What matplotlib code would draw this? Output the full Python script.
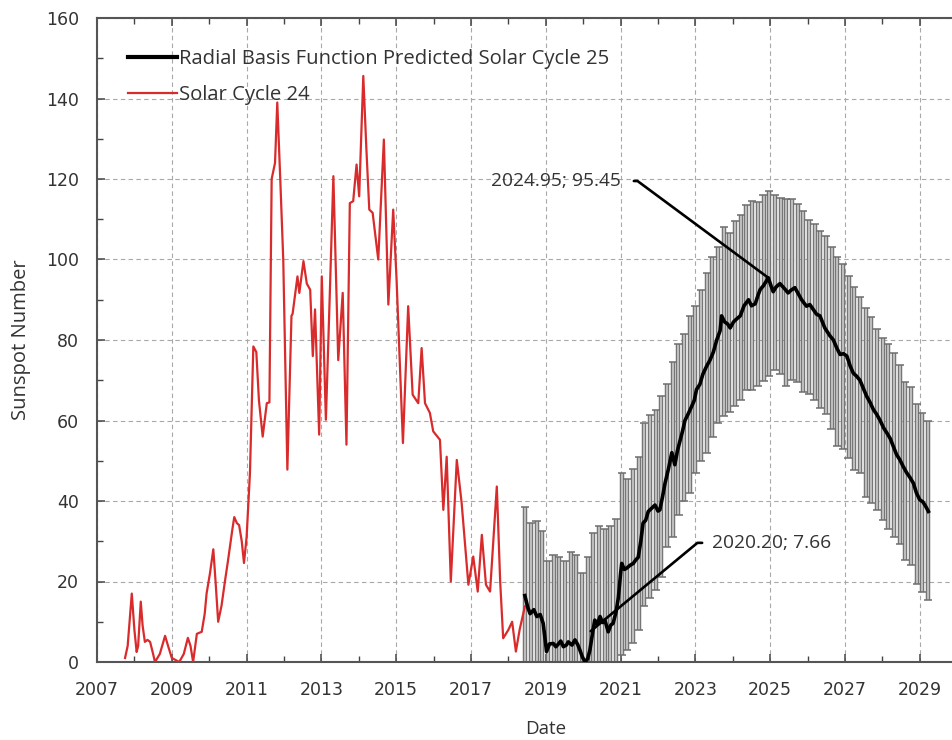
import numpy as np
import matplotlib
matplotlib.use("Agg")
import matplotlib.pyplot as plt
import matplotlib.patheffects as pe
from matplotlib.ticker import MultipleLocator

# ---- Solar Cycle 24 (observed, smoothed) ----
c24_year = [2007.75, 2007.82, 2007.93, 2008.00, 2008.06, 2008.10, 2008.17, 2008.22, 2008.28, 2008.35,
            2008.42, 2008.50, 2008.55, 2008.68, 2008.82, 2008.90, 2009.00, 2009.10, 2009.20, 2009.32,
            2009.43, 2009.50, 2009.57, 2009.67, 2009.80, 2009.88, 2009.93, 2010.02, 2010.11, 2010.17,
            2010.24, 2010.33, 2010.42, 2010.50, 2010.56, 2010.62, 2010.67, 2010.74, 2010.80, 2010.87,
            2010.93, 2011.00, 2011.09, 2011.18, 2011.26, 2011.33, 2011.43, 2011.54, 2011.61, 2011.67,
            2011.76, 2011.82, 2011.90, 2011.98, 2012.09, 2012.20, 2012.23, 2012.36, 2012.41, 2012.52,
            2012.61, 2012.70, 2012.77, 2012.83, 2012.94, 2013.01, 2013.12, 2013.22, 2013.32, 2013.45,
            2013.57, 2013.67, 2013.76, 2013.85, 2013.94, 2014.01, 2014.12, 2014.20, 2014.28, 2014.37,
            2014.52, 2014.67, 2014.79, 2014.92, 2015.01, 2015.18, 2015.32, 2015.44, 2015.59, 2015.68,
            2015.77, 2015.90, 2015.99, 2016.17, 2016.26, 2016.35, 2016.46, 2016.62, 2016.75, 2016.93,
            2017.06, 2017.18, 2017.29, 2017.40, 2017.51, 2017.69, 2017.78, 2017.86, 2018.00, 2018.10,
            2018.20, 2018.30, 2018.44]
c24_ssn = [1.0, 4.0, 17.0, 8.0, 2.5, 4.0, 15.0, 9.0, 5.0, 5.5,
           5.0, 2.0, 0.0, 2.0, 6.5, 4.0, 1.0, 0.5, 0.0, 2.0,
           6.0, 4.0, 0.0, 7.0, 7.5, 12.0, 17.0, 22.0, 28.0, 20.0,
           10.0, 14.0, 20.0, 25.0, 29.0, 33.0, 36.0, 34.5, 34.0, 30.0,
           24.6, 31.0, 47.0, 78.4, 77.0, 65.0, 56.0, 64.3, 64.5, 120.0,
           124.0, 139.0, 120.0, 100.0, 47.8, 86.0, 86.5, 95.8, 91.7, 99.6,
           94.0, 92.5, 76.0, 87.6, 56.5, 95.8, 60.2, 90.0, 120.7, 75.0,
           91.7, 54.0, 114.0, 114.5, 123.6, 115.7, 145.6, 128.0, 112.4, 111.6,
           100.0, 129.8, 88.8, 112.4, 95.0, 54.4, 88.4, 66.4, 64.3, 78.0,
           64.3, 61.9, 57.3, 55.2, 37.8, 51.0, 20.0, 50.2, 39.5, 19.2,
           26.2, 17.5, 31.6, 19.2, 17.5, 43.6, 20.0, 5.9, 8.0, 10.0,
           2.6, 8.0, 13.8]

# ---- Radial basis function prediction for Solar Cycle 25 ----
c25_year = [2018.44, 2018.52, 2018.58, 2018.68, 2018.76, 2018.85, 2018.93, 2019.02, 2019.10, 2019.20,
            2019.27, 2019.33, 2019.40, 2019.47, 2019.55, 2019.60, 2019.70, 2019.78, 2019.85, 2019.91,
            2019.98, 2020.05, 2020.12, 2020.18, 2020.25, 2020.31, 2020.38, 2020.45, 2020.52, 2020.58,
            2020.63, 2020.67, 2020.74, 2020.80, 2020.88, 2020.94, 2021.00, 2021.03, 2021.10, 2021.16,
            2021.25, 2021.34, 2021.40, 2021.47, 2021.54, 2021.60, 2021.67, 2021.74, 2021.83, 2021.92,
            2022.00, 2022.05, 2022.12, 2022.19, 2022.28, 2022.37, 2022.45, 2022.52, 2022.59, 2022.66,
            2022.72, 2022.80, 2022.90, 2022.97, 2023.03, 2023.12, 2023.20, 2023.30, 2023.39, 2023.48,
            2023.57, 2023.66, 2023.70, 2023.78, 2023.86, 2023.93, 2024.02, 2024.10, 2024.20, 2024.30,
            2024.42, 2024.50, 2024.60, 2024.67, 2024.73, 2024.82, 2024.95, 2025.02, 2025.08, 2025.16,
            2025.26, 2025.36, 2025.48, 2025.56, 2025.66, 2025.75, 2025.84, 2025.97, 2026.06, 2026.15,
            2026.24, 2026.33, 2026.46, 2026.60, 2026.69, 2026.78, 2026.87, 2026.96, 2027.05, 2027.14,
            2027.22, 2027.31, 2027.40, 2027.49, 2027.58, 2027.67, 2027.76, 2027.85, 2027.94, 2028.03,
            2028.12, 2028.21, 2028.29, 2028.38, 2028.47, 2028.56, 2028.65, 2028.74, 2028.83, 2028.91,
            2029.00, 2029.08, 2029.15, 2029.23]
c25_ssn = [16.5, 13.5, 12.0, 13.0, 11.3, 11.8, 9.6, 2.6, 4.5, 4.6,
           3.8, 4.4, 5.2, 3.8, 4.2, 5.0, 4.2, 5.5, 4.4, 3.0,
           1.2, 0.0, 0.8, 3.0, 7.2, 10.4, 9.5, 11.3, 9.8, 10.4,
           8.8, 7.5, 9.2, 9.6, 12.5, 16.0, 22.0, 24.5, 23.0, 23.3,
           24.0, 24.5, 25.3, 26.0, 30.0, 34.5, 35.2, 37.4, 38.2, 39.0,
           37.5, 37.8, 41.0, 44.5, 48.0, 52.0, 49.0, 52.5, 55.0, 57.5,
           60.0, 61.5, 63.5, 65.0, 67.7, 69.0, 71.5, 73.5, 75.0, 77.0,
           80.0, 82.3, 86.0, 84.5, 84.0, 83.0, 84.5, 85.2, 86.0, 88.5,
           90.0, 88.5, 89.0, 91.0, 92.5, 93.5, 95.45, 93.5, 92.0, 93.2,
           94.0, 93.0, 91.7, 92.4, 93.0, 91.5, 90.0, 88.4, 88.8, 87.6,
           86.4, 86.0, 83.0, 81.0, 80.0, 78.0, 76.4, 76.6, 76.0, 73.5,
           71.8, 71.0, 70.0, 68.0, 66.0, 64.5, 62.7, 61.5, 60.0, 58.2,
           56.9, 55.5, 53.6, 51.5, 50.2, 48.5, 47.0, 45.8, 44.4, 42.0,
           40.3, 39.8, 38.8, 37.4]

# Uncertainty band of the prediction, sampled at the error-bar dates
band_first, band_last, band_count = 2018.45, 2029.22, 72
band_upper = [38.5, 34.5, 35.0, 32.5, 25.0, 26.5, 26.0, 25.0, 27.4, 26.5,
              22.0, 26.0, 32.0, 33.7, 33.0, 33.7, 35.5, 47.0, 45.5, 48.0,
              51.0, 59.5, 61.4, 62.5, 66.0, 69.0, 74.5, 79.0, 81.5, 86.0,
              88.5, 92.5, 96.7, 100.5, 103.0, 108.0, 106.5, 109.5, 111.0, 113.5,
              114.5, 114.3, 116.0, 117.0, 116.0, 115.2, 115.0, 115.0, 113.8, 112.0,
              109.8, 108.8, 107.0, 105.8, 103.0, 100.5, 98.8, 96.0, 93.2, 90.8,
              88.0, 85.8, 82.8, 80.6, 79.0, 76.8, 73.8, 69.5, 68.2, 64.0,
              61.8, 60.0]
band_lower = [-5.0, -9.0, -11.0, -13.0, -18.0, -17.0, -17.0, -18.0, -16.0, -15.0,
              -18.0, -19.0, -12.0, -10.0, -12.0, -16.0, -3.0, 1.8, 3.0, 4.6,
              8.0, 14.0, 16.0, 18.0, 21.0, 28.5, 31.0, 36.5, 40.0, 42.0,
              47.0, 50.0, 52.0, 56.0, 59.5, 61.0, 62.0, 63.5, 65.2, 67.7,
              67.7, 68.6, 69.8, 71.0, 72.5, 71.5, 68.5, 70.0, 69.5, 67.0,
              66.5, 65.0, 63.0, 61.5, 58.0, 53.6, 53.0, 50.6, 47.6, 47.0,
              41.0, 39.4, 37.7, 35.3, 33.0, 31.0, 29.2, 25.3, 24.2, 19.5,
              17.5, 15.5]

peak_point = (2024.95, 95.45)
min_point = (2020.20, 7.66)

x_ticks = list(range(2007, 2030, 2))
y_ticks = list(range(0, 161, 20))

# ---- figure ----
plt.rcParams['font.family'] = ['Open Sans', 'DejaVu Sans']
fig = plt.figure(figsize=(9.52, 7.40), dpi=100)
ax = fig.add_axes([97 / 952, 78 / 740, 24 * 37.4 / 952, 644 / 740])

ax.set_xlim(2007, 2031)
ax.set_ylim(0, 160)

# error bars of the prediction
bx = np.linspace(band_first, band_last, band_count)
up = np.array(band_upper)
lo = np.array(band_lower)
ax.vlines(bx, lo, up, colors='#bdbdbd', linewidth=1.6, zorder=2,
          path_effects=[pe.Stroke(linewidth=3.2, foreground='#6e6e6e'), pe.Normal()])
ax.hlines(up, bx - 0.11, bx + 0.11, colors='#6e6e6e', linewidth=1.1, zorder=2)
ax.hlines(lo, bx - 0.11, bx + 0.11, colors='#6e6e6e', linewidth=1.1, zorder=2)

ax.plot(c24_year, c24_ssn, color='#d92b2b', lw=1.6, zorder=3, label='Solar Cycle 24')
ax.plot(c25_year, c25_ssn, color='black', lw=2.6, zorder=4,
        label='Radial Basis Function Predicted Solar Cycle 25')

# grid, ticks, spines
ax.set_xticks(x_ticks)
ax.set_yticks(y_ticks)
ax.xaxis.set_minor_locator(MultipleLocator(1))
ax.yaxis.set_minor_locator(MultipleLocator(10))
ax.grid(True, which='major', color='#a8a8a8', linestyle=(0, (4, 3)), linewidth=0.8, zorder=0)
ax.set_axisbelow(True)
ax.tick_params(which='both', direction='in', top=True, right=False, colors='#444444',
               labelcolor='#333333')
ax.tick_params(which='major', length=6, width=1.1)
ax.tick_params(which='minor', length=4, width=1.0)
ax.tick_params(axis='y', pad=13)
ax.tick_params(axis='x', pad=14)
for lab in ax.get_xticklabels() + ax.get_yticklabels():
    lab.set_fontsize(12.5)
    lab.set_family(['DejaVu Sans'])
for s in ax.spines.values():
    s.set_color('#555555')
    s.set_linewidth(1.5)

ax.set_xlabel('Date', fontsize=13.5, color='#333333', labelpad=15)
ax.set_ylabel('Sunspot Number', fontsize=14.5, color='#333333', labelpad=11)

# annotations for the predicted maximum and minimum
ax.annotate(f'{peak_point[0]:.2f}; {peak_point[1]:.2f}', xy=peak_point, xytext=(2021.02, 119.5),
            ha='right', va='center', fontsize=13.8, color='#333333', zorder=6,
            arrowprops=dict(arrowstyle='-', color='black', lw=1.9, shrinkA=7, shrinkB=0,
                            relpos=(1, 0.5),
                            connectionstyle='angle,angleA=0,angleB=-36.5,rad=0'))
ax.annotate(f'{min_point[0]:.2f}; {min_point[1]:.2f}', xy=min_point, xytext=(2023.44, 29.6),
            ha='left', va='center', fontsize=13.8, color='#333333', zorder=6,
            arrowprops=dict(arrowstyle='-', color='black', lw=1.9, shrinkA=5, shrinkB=0,
                            relpos=(0, 0.5),
                            connectionstyle='angle,angleA=0,angleB=39.6,rad=0'))

handles, labels = ax.get_legend_handles_labels()
leg = ax.legend(handles[::-1], labels[::-1], loc='upper left',
                bbox_to_anchor=(128 / 952, 1 - 49 / 740), bbox_transform=fig.transFigure,
                frameon=False, fontsize=14.6, handlelength=2.4, handletextpad=0.12,
                labelspacing=0.78, borderpad=0, borderaxespad=0)
leg.get_lines()[0].set_linewidth(3.0)
for t in leg.get_texts():
    t.set_color('#333333')

fig.savefig('out.png', dpi=100)
